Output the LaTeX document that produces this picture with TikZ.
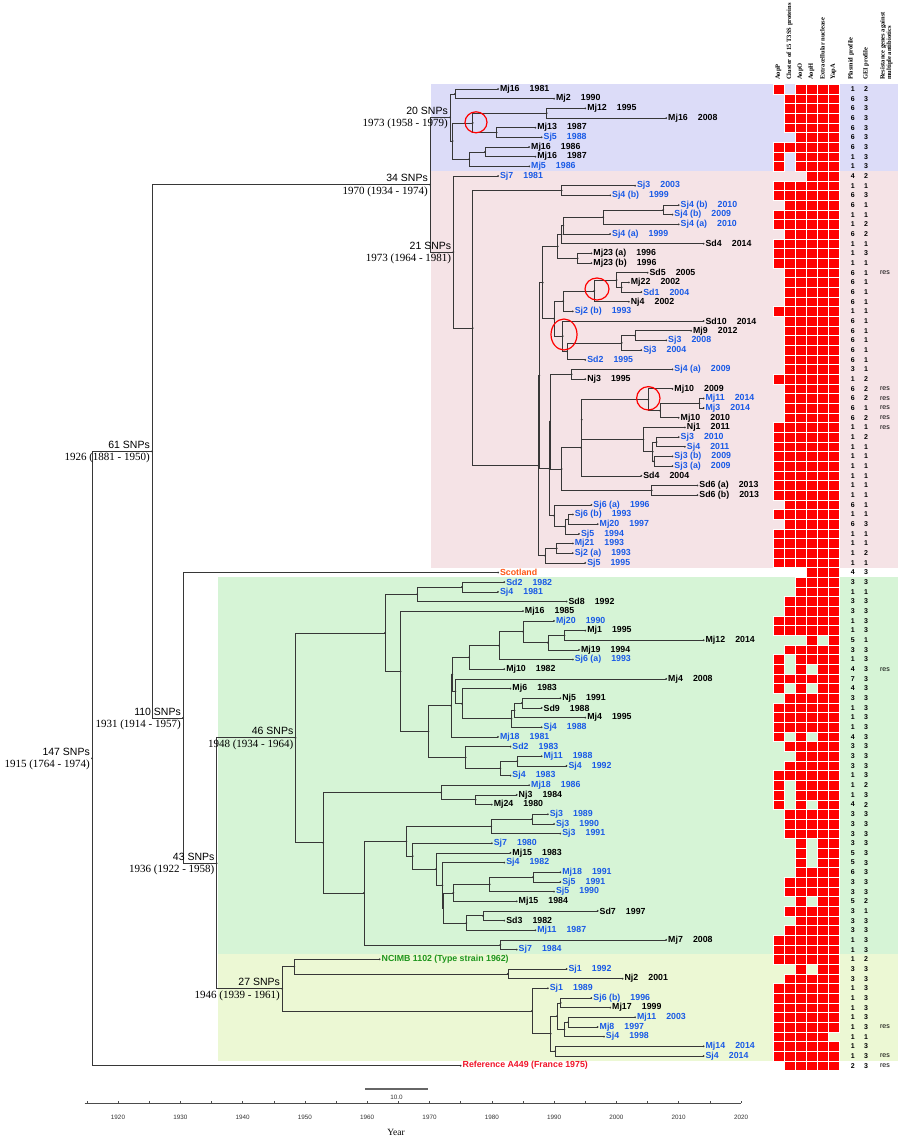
\documentclass[tikz,border=0pt]{standalone}
\usepackage{fontspec}
\setmainfont{Liberation Serif}
\setsansfont{Liberation Sans}
\usetikzlibrary{calc}
\definecolor{tipblue}{RGB}{25,90,230}
\definecolor{scot}{RGB}{255,85,20}
\definecolor{ncimb}{RGB}{30,150,30}
\definecolor{refred}{RGB}{240,20,40}
\definecolor{bgblue}{RGB}{220,220,248}
\definecolor{bgpink}{RGB}{245,227,230}
\definecolor{bggreen}{RGB}{214,244,214}
\definecolor{bgyellow}{RGB}{236,248,212}
\definecolor{cellred}{RGB}{255,0,0}
\definecolor{brc}{RGB}{55,55,55}
\tikzset{
 br/.style={draw=brc, line width=0.6pt},
 tiplab/.style={anchor=west, inner sep=1.8pt, font=\sffamily\bfseries\fontsize{8.8}{10}\selectfont},
 snp/.style={inner sep=1pt, font=\sffamily\fontsize{10.5}{12}\selectfont},
 snpd/.style={inner sep=1pt, font=\fontsize{11}{12}\selectfont},
 hdr/.style={rotate=90, anchor=west, inner sep=0pt, font=\bfseries\fontsize{6.5}{8}\selectfont},
 num/.style={inner sep=0pt, font=\sffamily\bfseries\fontsize{7}{8}\selectfont},
 resl/.style={inner sep=0pt, font=\sffamily\fontsize{7}{8}\selectfont},
 circ/.style={draw=red, line width=1.2pt},
 ticklab/.style={inner sep=0pt, font=\sffamily\fontsize{6.3}{7}\selectfont, text=black!80},
}
\newcommand\tip[6]{%
  \coordinate (#1) at ({118+(#3-1920)*6.23},{89+(#2-1)*9.67});
  \fill[brc] (#1) circle (1pt);
  \node[tiplab,text=#4] (#1l) at (#1) {#5\hspace{1.15em}#6};}
\newcommand\tipx[5]{%
  \coordinate (#1) at ({118+(#3-1920)*6.23},{89+(#2-1)*9.67});
  \fill[brc] (#1) circle (1pt);
  \node[tiplab,text=#4] (#1l) at (#1) {#5};}
\newcommand\jn[4]{%
  \path let \p1=(#3), \p2=(#4) in coordinate (#1) at (#2pt,{(\y1+\y2)/2});
  \draw[br] (#3) -- (#3 -| #1) -- (#4 -| #1) -- (#4);
  \fill[brc] (#1) circle (1pt);}
\newcommand\nlab[3]{%
  \node[snp,anchor=south east] (#1s) at ([xshift=-1pt,yshift=1.5pt]#1) {#2};
  \node[snpd,anchor=north east] (#1d) at ([xshift=-1pt,yshift=-0.5pt]#1) {#3};}
\newcommand\cell[3]{\ifnum#3=1 \fill[cellred,draw=white,line width=0.5pt] ({773+(#2-1)*11.05},{84.17+(#1-1)*9.67}) rectangle ++(11.05,9.67);\fi}
\def\Mrow#1#2#3#4#5#6#7#8#9{\cell{#1}{1}{#2}\cell{#1}{2}{#3}\cell{#1}{3}{#4}\cell{#1}{4}{#5}\cell{#1}{5}{#6}\cell{#1}{6}{#7}%
  \node[num] (p#1) at (852.7,{89+(#1-1)*9.67}) {#8};\node[num] (g#1) at (866,{89+(#1-1)*9.67}) {#9};}
\newcommand\res[1]{\node[resl] (rs#1) at (885,{89+(#1-1)*9.67}) {res};}

\begin{document}
\begin{tikzpicture}[x=1pt,y=-1pt]
\useasboundingbox (0,0) rectangle (898,1140);
\fill[white] (0,0) rectangle (898,1140);
% background bands
\fill[bgblue] (431,84.17) rectangle (898,171.2);
\fill[bgpink] (431,171.2) rectangle (898,567.7);
\fill[bggreen] (218,577.3) rectangle (898,954.2);
\fill[bgyellow] (218,954.2) rectangle (898,1060.6);

% ---------- tips ----------
\tip{t1}{1}{1981}{black}{Mj16}{1981}
\tip{t2}{2}{1990}{black}{Mj2}{1990}
\tip{t3}{3}{1995}{black}{Mj12}{1995}
\tip{t4}{4}{2008}{black}{Mj16}{2008}
\tip{t5}{5}{1987}{black}{Mj13}{1987}
\tip{t6}{6}{1988}{tipblue}{Sj5}{1988}
\tip{t7}{7}{1986}{black}{Mj16}{1986}
\tip{t8}{8}{1987}{black}{Mj16}{1987}
\tip{t9}{9}{1986}{tipblue}{Mj5}{1986}
\tip{t10}{10}{1981}{tipblue}{Sj7}{1981}
\tip{t11}{11}{2003}{tipblue}{Sj3}{2003}
\tip{t12}{12}{1999}{tipblue}{Sj4 (b)}{1999}
\tip{t13}{13}{2010}{tipblue}{Sj4 (b)}{2010}
\tip{t14}{14}{2009}{tipblue}{Sj4 (b)}{2009}
\tip{t15}{15}{2010}{tipblue}{Sj4 (a)}{2010}
\tip{t16}{16}{1999}{tipblue}{Sj4 (a)}{1999}
\tip{t17}{17}{2014}{black}{Sd4}{2014}
\tip{t18}{18}{1996}{black}{Mj23 (a)}{1996}
\tip{t19}{19}{1996}{black}{Mj23 (b)}{1996}
\tip{t20}{20}{2005}{black}{Sd5}{2005}
\tip{t21}{21}{2002}{black}{Mj22}{2002}
\tip{t22}{22}{2004}{tipblue}{Sd1}{2004}
\tip{t23}{23}{2002}{black}{Nj4}{2002}
\tip{t24}{24}{1993}{tipblue}{Sj2 (b)}{1993}
\tip{t25}{25}{2014}{black}{Sd10}{2014}
\tip{t26}{26}{2012}{black}{Mj9}{2012}
\tip{t27}{27}{2008}{tipblue}{Sj3}{2008}
\tip{t28}{28}{2004}{tipblue}{Sj3}{2004}
\tip{t29}{29}{1995}{tipblue}{Sd2}{1995}
\tip{t30}{30}{2009}{tipblue}{Sj4 (a)}{2009}
\tip{t31}{31}{1995}{black}{Nj3}{1995}
\tip{t32}{32}{2009}{black}{Mj10}{2009}
\tip{t33}{33}{2014}{tipblue}{Mj11}{2014}
\tip{t34}{34}{2014}{tipblue}{Mj3}{2014}
\tip{t35}{35}{2010}{black}{Mj10}{2010}
\tip{t36}{36}{2011}{black}{Nj1}{2011}
\tip{t37}{37}{2010}{tipblue}{Sj3}{2010}
\tip{t38}{38}{2011}{tipblue}{Sj4}{2011}
\tip{t39}{39}{2009}{tipblue}{Sj3 (b)}{2009}
\tip{t40}{40}{2009}{tipblue}{Sj3 (a)}{2009}
\tip{t41}{41}{2004}{black}{Sd4}{2004}
\tip{t42}{42}{2013}{black}{Sd6 (a)}{2013}
\tip{t43}{43}{2013}{black}{Sd6 (b)}{2013}
\tip{t44}{44}{1996}{tipblue}{Sj6 (a)}{1996}
\tip{t45}{45}{1993}{tipblue}{Sj6 (b)}{1993}
\tip{t46}{46}{1997}{tipblue}{Mj20}{1997}
\tip{t47}{47}{1994}{tipblue}{Sj5}{1994}
\tip{t48}{48}{1993}{tipblue}{Mj21}{1993}
\tip{t49}{49}{1993}{tipblue}{Sj2 (a)}{1993}
\tip{t50}{50}{1995}{tipblue}{Sj5}{1995}
\tipx{t51}{51}{1981}{scot}{Scotland}
\tip{t52}{52}{1982}{tipblue}{Sd2}{1982}
\tip{t53}{53}{1981}{tipblue}{Sj4}{1981}
\tip{t54}{54}{1992}{black}{Sd8}{1992}
\tip{t55}{55}{1985}{black}{Mj16}{1985}
\tip{t56}{56}{1990}{tipblue}{Mj20}{1990}
\tip{t57}{57}{1995}{black}{Mj1}{1995}
\tip{t58}{58}{2014}{black}{Mj12}{2014}
\tip{t59}{59}{1994}{black}{Mj19}{1994}
\tip{t60}{60}{1993}{tipblue}{Sj6 (a)}{1993}
\tip{t61}{61}{1982}{black}{Mj10}{1982}
\tip{t62}{62}{2008}{black}{Mj4}{2008}
\tip{t63}{63}{1983}{black}{Mj6}{1983}
\tip{t64}{64}{1991}{black}{Nj5}{1991}
\tip{t65}{65}{1988}{black}{Sd9}{1988}
\tip{t66}{66}{1995}{black}{Mj4}{1995}
\tip{t67}{67}{1988}{tipblue}{Sj4}{1988}
\tip{t68}{68}{1981}{tipblue}{Mj18}{1981}
\tip{t69}{69}{1983}{tipblue}{Sd2}{1983}
\tip{t70}{70}{1988}{tipblue}{Mj11}{1988}
\tip{t71}{71}{1992}{tipblue}{Sj4}{1992}
\tip{t72}{72}{1983}{tipblue}{Sj4}{1983}
\tip{t73}{73}{1986}{tipblue}{Mj18}{1986}
\tip{t74}{74}{1984}{black}{Nj3}{1984}
\tip{t75}{75}{1980}{black}{Mj24}{1980}
\tip{t76}{76}{1989}{tipblue}{Sj3}{1989}
\tip{t77}{77}{1990}{tipblue}{Sj3}{1990}
\tip{t78}{78}{1991}{tipblue}{Sj3}{1991}
\tip{t79}{79}{1980}{tipblue}{Sj7}{1980}
\tip{t80}{80}{1983}{black}{Mj15}{1983}
\tip{t81}{81}{1982}{tipblue}{Sj4}{1982}
\tip{t82}{82}{1991}{tipblue}{Mj18}{1991}
\tip{t83}{83}{1991}{tipblue}{Sj5}{1991}
\tip{t84}{84}{1990}{tipblue}{Sj5}{1990}
\tip{t85}{85}{1984}{black}{Mj15}{1984}
\tip{t86}{86}{1997}{black}{Sd7}{1997}
\tip{t87}{87}{1982}{black}{Sd3}{1982}
\tip{t88}{88}{1987}{tipblue}{Mj11}{1987}
\tip{t89}{89}{2008}{black}{Mj7}{2008}
\tip{t90}{90}{1984}{tipblue}{Sj7}{1984}
\tipx{t91}{91}{1962}{ncimb}{NCIMB 1102 (Type strain 1962)}
\tip{t92}{92}{1992}{tipblue}{Sj1}{1992}
\tip{t93}{93}{2001}{black}{Nj2}{2001}
\tip{t94}{94}{1989}{tipblue}{Sj1}{1989}
\tip{t95}{95}{1996}{tipblue}{Sj6 (b)}{1996}
\tip{t96}{96}{1999}{black}{Mj17}{1999}
\tip{t97}{97}{2003}{tipblue}{Mj11}{2003}
\tip{t98}{98}{1997}{tipblue}{Mj8}{1997}
\tip{t99}{99}{1998}{tipblue}{Sj4}{1998}
\tip{t100}{100}{2014}{tipblue}{Mj14}{2014}
\tip{t101}{101}{2014}{tipblue}{Sj4}{2014}
\tipx{t102}{102}{1975}{refred}{Reference A449 (France 1975)}

% ---------- internal nodes: blue clade ----------
\jn{na}{455}{t1}{t2}
\jn{nc}{546.7}{t3}{t4}
\jn{nd}{496.7}{t5}{t6}
\jn{nb}{472.7}{nc}{nd}
\jn{ng}{485}{t7}{t8}
\jn{nf}{469.3}{ng}{t9}
\jn{ne}{452.7}{nb}{nf}
\jn{B0}{450}{na}{ne}
% ---------- pink clade ----------
\jn{R1}{561.7}{t11}{t12}
\jn{N1314}{663.3}{t13}{t14}
\jn{N1315}{603.3}{N1314}{t15}
\jn{N1316}{563.3}{N1315}{t16}
\jn{N1317}{561.5}{N1316}{t17}
\jn{N1819}{577.7}{t18}{t19}
\jn{N1319}{557.7}{N1317}{N1819}
\jn{N2122}{621.7}{t21}{t22}
\jn{N2022}{616.7}{t20}{N2122}
\jn{N2023}{594.3}{N2022}{t23}
\jn{N2024}{563.3}{N2023}{t24}
\jn{N2627}{635}{t26}{t27}
\jn{N2628}{621.7}{N2627}{t28}
\jn{U2}{567}{N2628}{t29}
\jn{U}{562.7}{t25}{U2}
\jn{V}{554}{N2024}{U}
\jn{M1}{542.7}{N1319}{V}
\jn{N3031}{571.7}{t30}{t31}
\jn{N3334}{699.3}{t33}{t34}
\jn{N3335}{660}{N3334}{t35}
\jn{N3235}{648.3}{t32}{N3335}
\jn{N3738}{656.7}{t37}{t38}
\jn{N3940}{654}{t39}{t40}
\jn{N3740}{652.7}{N3738}{N3940}
\jn{N3640}{643.3}{t36}{N3740}
\jn{A1}{581.7}{N3235}{N3640}
\jn{A2}{581}{A1}{t41}
\jn{N4243}{651.7}{t42}{t43}
\jn{N3243}{561.7}{A2}{N4243}
\jn{X1}{550}{N3031}{N3243}
\jn{N4546}{568.3}{t45}{t46}
\jn{N4547}{565}{N4546}{t47}
\jn{N4447}{554}{t44}{N4547}
\jn{X2}{549.3}{X1}{N4447}
\jn{X}{539.3}{M1}{X2}
\jn{N4849}{556.7}{t48}{t49}
\jn{N4850}{545}{N4849}{t50}
\jn{S}{538.3}{X}{N4850}
\jn{Q}{472.7}{R1}{S}
\jn{P}{453.3}{t10}{Q}
\jn{N34}{430}{B0}{P}
% ---------- green clade ----------
\jn{N5253}{461.9}{t52}{t53}
\jn{N5254}{417.2}{N5253}{t54}
\jn{N5758}{564.4}{t57}{t58}
\jn{N5759}{547.8}{N5758}{t59}
\jn{N5659}{523}{t56}{N5759}
\jn{N5660}{498.9}{N5659}{t60}
\jn{N5661}{469}{N5660}{t61}
\jn{N6465}{521.9}{t64}{t65}
\jn{N6466}{514.5}{N6465}{t66}
\jn{N6467}{511.5}{N6466}{t67}
\jn{N6367}{461.9}{t63}{N6467}
\jn{N6267}{455.3}{t62}{N6367}
\jn{N5667}{452.3}{N5661}{N6267}
\jn{N5668}{451}{N5667}{t68}
\jn{N7071}{517.4}{t70}{t71}
\jn{N7072}{500.4}{N7071}{t72}
\jn{N6972}{465.6}{t69}{N7072}
\jn{N5672}{428.3}{N5668}{N6972}
\jn{N5572}{400.5}{t55}{N5672}
\jn{N5272}{385}{N5254}{N5572}
\jn{N7475}{475.6}{t74}{t75}
\jn{N7375}{441.2}{t73}{N7475}
\jn{N7677}{531.9}{t76}{t77}
\jn{N7678}{491.2}{N7677}{t78}
\jn{N8283}{533}{t82}{t83}
\jn{N8284}{489.7}{N8283}{t84}
\jn{N8285}{453.4}{N8284}{t85}
\jn{N8687}{483}{t86}{t87}
\jn{N8688}{466.4}{N8687}{t88}
\jn{N8288}{443}{N8285}{N8688}
\jn{N8188}{442.3}{t81}{N8288}
\jn{N8088}{436}{t80}{N8188}
\jn{N7988}{412.7}{t79}{N8088}
\jn{N7688}{406.4}{N7678}{N7988}
\jn{N8990}{500.4}{t89}{t90}
\jn{N7690}{363.9}{N7688}{N8990}
\jn{N7390}{323.2}{N7375}{N7690}
\jn{N46}{295.5}{N5272}{N7390}
% ---------- yellow clade ----------
\jn{N9293}{507.8}{t92}{t93}
\jn{N9193}{294.3}{t91}{N9293}
\jn{N9596}{560.7}{t95}{t96}
\jn{N9798}{568.1}{t97}{t98}
\jn{N9799}{564.4}{N9798}{t99}
\jn{N9599}{557}{N9596}{N9799}
\jn{N100101}{555.2}{t100}{t101}
\jn{N95101}{550.7}{N9599}{N100101}
\jn{N94101}{531.9}{t94}{N95101}
\jn{N27}{282.1}{N9193}{N94101}
% ---------- backbone ----------
\jn{N43}{216.6}{N46}{N27}
\jn{N110}{183}{t51}{N43}
\jn{N61}{152}{N34}{N110}
\jn{Root}{92}{N61}{t102}

% node labels
\nlab{B0}{20 SNPs}{1973 (1958 - 1979)}
\nlab{P}{21 SNPs}{1973 (1964 - 1981)}
\nlab{N34}{34 SNPs}{1970 (1934 - 1974)}
\nlab{N61}{61 SNPs}{1926 (1881 - 1950)}
\nlab{N110}{110 SNPs}{1931 (1914 - 1957)}
\nlab{N43}{43 SNPs}{1936 (1922 - 1958)}
\nlab{N46}{46 SNPs}{1948 (1934 - 1964)}
\nlab{N27}{27 SNPs}{1946 (1939 - 1961)}
\nlab{Root}{147 SNPs}{1915 (1764 - 1974)}

% red circles
\draw[circ] (476,122.3) ellipse (11pt and 10.5pt);
\draw[circ] (597,289) ellipse (12pt and 11pt);
\draw[circ] (564,334.5) ellipse (13pt and 15.5pt);
\draw[circ] (648.3,398.3) ellipse (11.7pt and 11.7pt);

% ---------- matrix ----------
\node[hdr] (h1) at (778.5,80) {AopP};
\node[hdr] (h2) at (789.5,80) {Cluster of 15 T3SS proteins};
\node[hdr] (h3) at (800.5,80) {AopO};
\node[hdr] (h4) at (811.5,80) {AopH};
\node[hdr] (h5) at (822.5,80) {Extracellular nuclease};
\node[hdr] (h6) at (833.5,80) {YapA};
\node[hdr] (h7) at (851,80) {Plasmid profile};
\node[hdr] (h8) at (866,80) {GEI profile};
\node[hdr] (h9) at (883,80) {Resistance genes against};
\node[hdr] (h10) at (889.5,80) {multiple antibiotics};

\Mrow{1}101111 12
\Mrow{2}011111 63
\Mrow{3}011111 63
\Mrow{4}011111 63
\Mrow{5}011111 63
\Mrow{6}001111 63
\Mrow{7}111111 63
\Mrow{8}101111 13
\Mrow{9}101111 13
\Mrow{10}000111 42
\Mrow{11}111111 11
\Mrow{12}111111 63
\Mrow{13}011111 61
\Mrow{14}111111 11
\Mrow{15}111111 12
\Mrow{16}011111 62
\Mrow{17}111111 11
\Mrow{18}111111 13
\Mrow{19}111111 11
\Mrow{20}011111 61
\Mrow{21}011111 61
\Mrow{22}011111 61
\Mrow{23}011111 61
\Mrow{24}111111 11
\Mrow{25}011111 61
\Mrow{26}011111 61
\Mrow{27}011111 61
\Mrow{28}011111 61
\Mrow{29}011111 61
\Mrow{30}011111 31
\Mrow{31}111111 12
\Mrow{32}011111 62
\Mrow{33}011111 62
\Mrow{34}011111 61
\Mrow{35}011111 62
\Mrow{36}111111 11
\Mrow{37}111111 12
\Mrow{38}111111 11
\Mrow{39}111111 11
\Mrow{40}111111 11
\Mrow{41}111111 11
\Mrow{42}111111 11
\Mrow{43}111111 11
\Mrow{44}011111 61
\Mrow{45}111111 11
\Mrow{46}011111 63
\Mrow{47}111111 11
\Mrow{48}111111 11
\Mrow{49}111111 12
\Mrow{50}111111 11
\Mrow{51}000111 43
\Mrow{52}001111 33
\Mrow{53}001111 11
\Mrow{54}011111 33
\Mrow{55}011111 33
\Mrow{56}111111 13
\Mrow{57}111111 13
\Mrow{58}000101 51
\Mrow{59}011111 33
\Mrow{60}101111 13
\Mrow{61}101011 43
\Mrow{62}111111 73
\Mrow{63}101011 43
\Mrow{64}011111 33
\Mrow{65}111111 13
\Mrow{66}111111 13
\Mrow{67}111111 13
\Mrow{68}101011 43
\Mrow{69}011111 33
\Mrow{70}001111 33
\Mrow{71}011111 33
\Mrow{72}111111 13
\Mrow{73}101111 12
\Mrow{74}101111 13
\Mrow{75}101011 42
\Mrow{76}011111 33
\Mrow{77}011111 33
\Mrow{78}011111 33
\Mrow{79}001011 33
\Mrow{80}001011 53
\Mrow{81}001011 53
\Mrow{82}001111 63
\Mrow{83}011111 33
\Mrow{84}011111 33
\Mrow{85}001011 52
\Mrow{86}011111 31
\Mrow{87}001111 33
\Mrow{88}011111 33
\Mrow{89}111111 13
\Mrow{90}111111 13
\Mrow{91}111111 12
\Mrow{92}001011 33
\Mrow{93}011111 33
\Mrow{94}111111 13
\Mrow{95}111111 13
\Mrow{96}111111 13
\Mrow{97}111111 13
\Mrow{98}111111 13
\Mrow{99}111110 11
\Mrow{100}111111 13
\Mrow{101}111111 13
\Mrow{102}011111 23
\res{20}\res{32}\res{33}\res{34}\res{35}\res{36}\res{61}\res{98}\res{101}\res{102}

% ---------- scale bar and axis ----------
\draw[line width=1.6pt, black!60] (365.2,1089) -- (427.5,1089);
\node[ticklab] (sb) at (396.4,1097.5) {10.0};
\draw[black!70, line width=0.5pt] (84.5,1103) -- (741,1103);
\foreach \yy in {1915,1920,...,2020} \draw[black!70, line width=0.5pt] ({118+(\yy-1920)*6.23},1103) -- ++(0,-2.5);
\foreach \yy in {1920,1930,...,2020} \node[ticklab] at ({118+(\yy-1920)*6.23},1117) {\yy};
\node[font=\fontsize{9.5}{10}\selectfont, inner sep=0pt] (yl) at (396,1132) {Year};
\end{tikzpicture}
\end{document}
